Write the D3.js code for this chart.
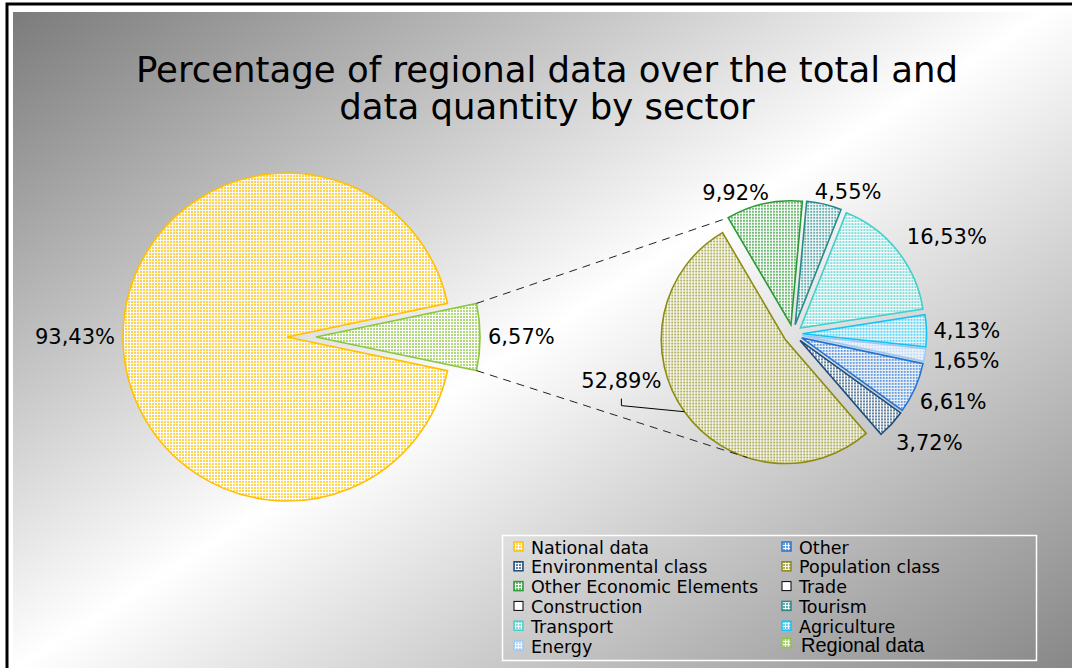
<!DOCTYPE html>
<html>
<head>
<meta charset="utf-8">
<script src="https://cdn.jsdelivr.net/npm/d3@7"></script>
<style>
  body { margin: 0; background: #fff; }
  svg { display: block; font-family: "DejaVu Sans", Verdana, sans-serif; }
</style>
</head>
<body>
<svg id="chart"></svg>
<script>
// ---- data ----
const titleLines = ["Percentage of regional data over the total and", "data quantity by sector"];
const mainLabels = ["National data", "Regional data"];
const mainValues = [93.43, 6.57];
const sectorLabels = ["Other", "Environmental class", "Population class", "Other Economic Elements",
    "Trade", "Construction", "Tourism", "Transport", "Agriculture", "Energy"];
const sectorValues = [6.61, 3.72, 52.89, 9.92, 0, 0, 4.55, 16.53, 4.13, 1.65];
const legendOrder = ["National data", "Other", "Environmental class", "Population class",
    "Other Economic Elements", "Trade", "Construction", "Tourism", "Transport", "Agriculture",
    "Energy", "Regional data"];

// ---- styles ----
const colors = {
    "National data": "#FFC000",
    "Regional data": "#8DC63F",
    "Other": "#2574D4",
    "Environmental class": "#1F4E79",
    "Population class": "#8D8B12",
    "Other Economic Elements": "#2C9A35",
    "Trade": null,
    "Construction": null,
    "Tourism": "#27898A",
    "Transport": "#45CFCB",
    "Agriculture": "#14C4F5",
    "Energy": "#9CC9F7"
};
// label angle (deg) / radius nudges for the secondary pie
const labelNudge = {
    "Other Economic Elements": [-6.7, 0],
    "Tourism": [5, 0],
    "Transport": [1.6, 12],
    "Energy": [1, 2],
    "Other": [2, 4],
    "Environmental class": [0, 11],
    "Population class": [17.5, 0]
};

const width = 1072, height = 668;
const deg = Math.PI / 180;
const fmt = d3.formatLocale({ decimal: ",", thousands: ".", grouping: [3], currency: ["", "€"] }).format(".2f");
const pct = v => fmt(v) + "%";

const svg = d3.select("#chart").attr("width", width).attr("height", height);
const defs = svg.append("defs");

// background gradient
const grad = defs.append("linearGradient").attr("id", "bg")
    .attr("x1", 0).attr("y1", 0).attr("x2", 1).attr("y2", 1);
grad.append("stop").attr("offset", 0).attr("stop-color", "#7b7b7b");
grad.append("stop").attr("offset", 0.47).attr("stop-color", "#ffffff");
grad.append("stop").attr("offset", 1).attr("stop-color", "#7b7b7b");

svg.append("rect").attr("x", 7).attr("y", 4).attr("width", 1100).attr("height", 700)
    .attr("fill", "#fff").attr("stroke", "#000").attr("stroke-width", 3);
svg.append("rect").attr("x", 13).attr("y", 12).attr("width", 1100).attr("height", 700)
    .attr("fill", "url(#bg)");

// dotted pattern fills
function patternId(name) { return "pat-" + name.replace(/\s+/g, "-"); }
Object.entries(colors).forEach(([name, c]) => {
    if (!c) return;
    const p = defs.append("pattern").attr("id", patternId(name))
        .attr("patternUnits", "userSpaceOnUse").attr("width", 3).attr("height", 3);
    p.append("rect").attr("width", 3).attr("height", 3).attr("fill", "#fff").attr("fill-opacity", 0.85);
    p.append("rect").attr("width", 2).attr("height", 2).attr("fill", c).attr("fill-opacity", 0.68);
});

// title
svg.append("text")
    .attr("text-anchor", "middle")
    .attr("font-size", 35.5)
    .attr("fill", "#000")
    .selectAll("tspan")
    .data(titleLines)
    .join("tspan")
    .attr("x", 547)
    .attr("y", (d, i) => 82 + i * 37)
    .text(d => d);

// helper: point at d3 angle a (clockwise from 12 o'clock)
const polar = (cx, cy, r, a) => [cx + r * Math.sin(a), cy - r * Math.cos(a)];

function placeLabel(g, text, cx, cy, R, a, size) {
    const t = g.append("text").attr("font-size", size).attr("text-anchor", "middle")
        .attr("dy", "0.35em").text(text);
    const w = t.node().getComputedTextLength();
    const h = size * 0.9;
    const x = cx + (R + w / 2) * Math.sin(a);
    const y = cy - (R + h / 2) * Math.cos(a);
    t.attr("x", x).attr("y", y);
    return [x, y];
}

// ---- primary pie ----
const L = { cx: 287, cy: 337, r: 164, explode: 29 };
const mainData = mainLabels.map((k, i) => ({ key: k, value: mainValues[i] }));
const regionalShare = mainValues[1] / d3.sum(mainValues);
const mainPie = d3.pie().sort(null).value(d => d.value)
    .startAngle(Math.PI / 2 + regionalShare * Math.PI)
    .endAngle(Math.PI / 2 + regionalShare * Math.PI + 2 * Math.PI);
const mainArcs = mainPie(mainData);
const arcL = d3.arc().innerRadius(0).outerRadius(L.r);

const gL = svg.append("g");
mainArcs.forEach(d => {
    const mid = (d.startAngle + d.endAngle) / 2;
    const e = d.data.key === "Regional data" ? L.explode : 0;
    const [ox, oy] = polar(0, 0, e, mid);
    gL.append("path")
        .attr("transform", `translate(${L.cx + ox},${L.cy + oy})`)
        .attr("d", arcL(d))
        .attr("fill", `url(#${patternId(d.data.key)})`)
        .attr("stroke", colors[d.data.key])
        .attr("stroke-width", 1.6)
        .attr("stroke-linejoin", "miter");
    placeLabel(gL, pct(d.data.value), L.cx, L.cy, L.r + e + 8, mid, 21);
});

// ---- secondary pie ----
const R = { cx: 793, cy: 334, r: 124, explode: 9.5, start: 102 * deg };
const sectorData = sectorLabels.map((k, i) => ({ key: k, value: sectorValues[i] }));
const secPie = d3.pie().sort(null).value(d => d.value)
    .startAngle(R.start).endAngle(R.start + 2 * Math.PI);
const secArcs = secPie(sectorData).filter(d => d.value > 0);
const arcR = d3.arc().innerRadius(0).outerRadius(R.r);

const gR = svg.append("g");
const centres = {};
secArcs.forEach(d => {
    const mid = (d.startAngle + d.endAngle) / 2;
    const [ox, oy] = polar(R.cx, R.cy, R.explode, mid);
    centres[d.data.key] = [ox, oy, d];
    gR.append("path")
        .attr("transform", `translate(${ox},${oy})`)
        .attr("d", arcR(d))
        .attr("fill", `url(#${patternId(d.data.key)})`)
        .attr("stroke", colors[d.data.key])
        .attr("stroke-width", 1.6);
    const n = labelNudge[d.data.key] || [0, 0];
    const [lx, ly] = placeLabel(gR, pct(d.data.value), R.cx, R.cy,
        R.r + R.explode + 7 + n[1], mid + n[0] * deg, 21);
    if (d.data.key === "Population class") {
        const [px, py] = polar(ox, oy, R.r, mid);
        gR.append("polyline")
            .attr("points", [[px, py], [lx, ly + 25], [lx, ly + 18]].map(p => p.join(",")).join(" "))
            .attr("fill", "none").attr("stroke", "#000").attr("stroke-width", 1);
    }
});

// ---- connector lines ----
const reg = mainArcs.find(d => d.data.key === "Regional data");
const regMid = (reg.startAngle + reg.endAngle) / 2;
const [rx, ry] = polar(L.cx, L.cy, L.explode, regMid);
const topStart = polar(rx, ry, L.r, reg.startAngle);
const botStart = polar(rx, ry, L.r, reg.endAngle);

const oe = centres["Other Economic Elements"];
const topEnd = polar(oe[0], oe[1], R.r, oe[2].startAngle);

// lower tangent from the bottom corner to the population slice circle
const pc = centres["Population class"];
const dx = pc[0] - botStart[0], dy = pc[1] - botStart[1];
const dist = Math.hypot(dx, dy);
const tanLen = Math.sqrt(dist * dist - R.r * R.r);
const ang = Math.atan2(dy, dx) + Math.asin(R.r / dist);
const botEnd = [botStart[0] + tanLen * Math.cos(ang), botStart[1] + tanLen * Math.sin(ang)];

[[topStart, topEnd], [botStart, botEnd]].forEach(([a, b]) => {
    svg.append("line")
        .attr("x1", a[0]).attr("y1", a[1]).attr("x2", b[0]).attr("y2", b[1])
        .attr("stroke", "#222").attr("stroke-width", 1).attr("stroke-dasharray", "8,6");
});

// ---- legend ----
const lg = svg.append("g");
lg.append("rect").attr("x", 502.5).attr("y", 535.5).attr("width", 534).attr("height", 125)
    .attr("fill", "none").attr("stroke", "#fff").attr("stroke-width", 1.5);

legendOrder.forEach((name, i) => {
    const col = i % 2, row = Math.floor(i / 2);
    const sx = col === 0 ? 514 : 782;
    const base = 553.5 + row * 19.8;
    const isRegional = name === "Regional data";
    const c = colors[name];
    lg.append("rect")
        .attr("x", sx).attr("y", base - (isRegional ? 14 : 11.5)).attr("width", 9).attr("height", 9)
        .attr("fill", c ? `url(#${patternId(name)})` : "#fff")
        .attr("stroke", c || "#000").attr("stroke-width", c ? 1.5 : 1);
    lg.append("text")
        .attr("x", sx + (isRegional ? 19 : 17))
        .attr("y", isRegional ? base - 1 : base)
        .attr("font-size", isRegional ? 20 : 17.5)
        .attr("font-family", isRegional ? "'Liberation Sans', Arial, sans-serif" : null)
        .attr("fill", "#000")
        .text(name);
});
</script>
</body>
</html>
